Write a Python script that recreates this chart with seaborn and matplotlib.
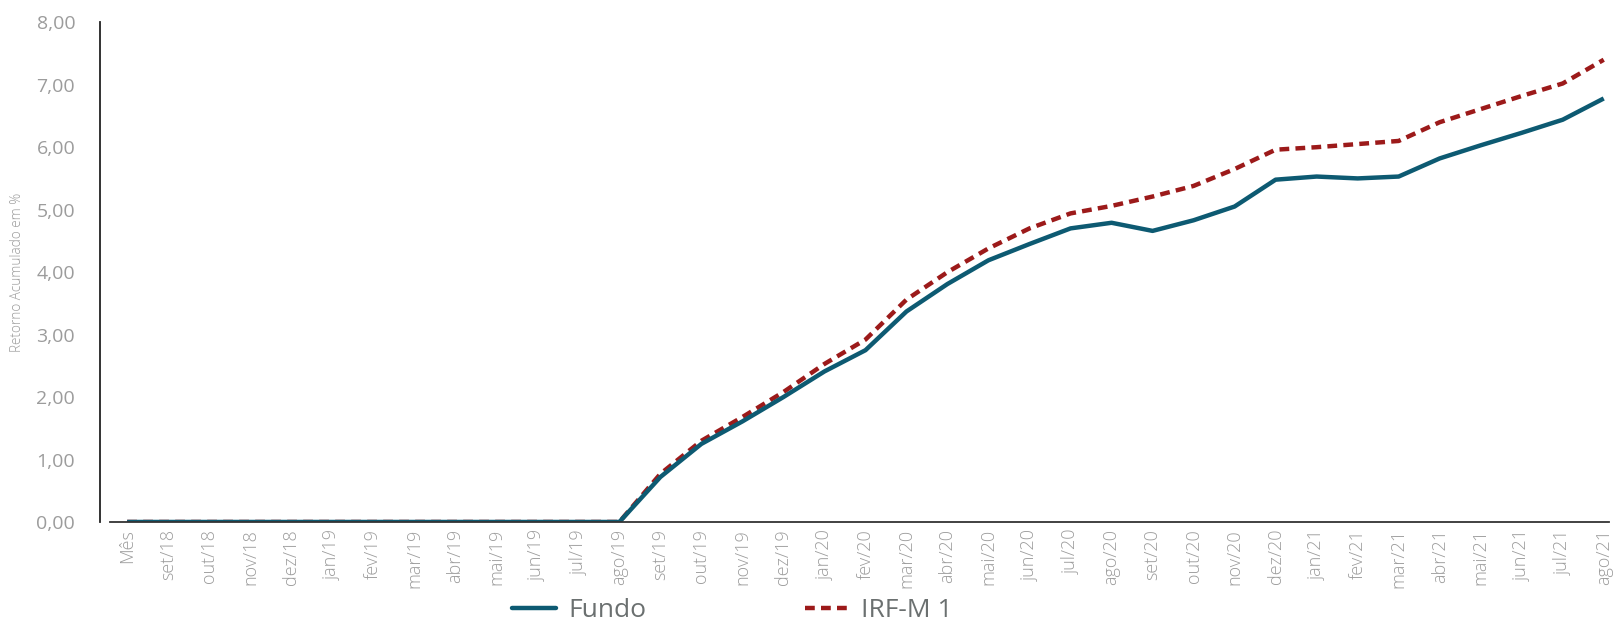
import numpy as np
import pandas as pd
import seaborn as sns
import matplotlib.pyplot as plt
from matplotlib.lines import Line2D
from matplotlib.ticker import FuncFormatter

meses = ["Mês", "set/18", "out/18", "nov/18", "dez/18", "jan/19", "fev/19", "mar/19",
         "abr/19", "mai/19", "jun/19", "jul/19", "ago/19", "set/19", "out/19", "nov/19",
         "dez/19", "jan/20", "fev/20", "mar/20", "abr/20", "mai/20", "jun/20", "jul/20",
         "ago/20", "set/20", "out/20", "nov/20", "dez/20", "jan/21", "fev/21", "mar/21",
         "abr/21", "mai/21", "jun/21", "jul/21", "ago/21"]

fundo = [0, 0, 0, 0, 0, 0, 0, 0, 0, 0, 0, 0, 0,
         0.72, 1.25, 1.61, 2.00, 2.41, 2.75, 3.37, 3.81, 4.19, 4.45, 4.70,
         4.79, 4.66, 4.83, 5.05, 5.48, 5.53, 5.50, 5.53, 5.82, 6.03, 6.23, 6.44, 6.78]

irfm1 = [0, 0, 0, 0, 0, 0, 0, 0, 0, 0, 0, 0, 0,
         0.77, 1.30, 1.68, 2.08, 2.53, 2.92, 3.56, 4.00, 4.38, 4.70, 4.94,
         5.06, 5.21, 5.38, 5.65, 5.96, 6.00, 6.05, 6.10, 6.40, 6.61, 6.82, 7.02, 7.40]

cor_fundo = "#0d5a72"
cor_irf = "#9c1a1a"
cinza = "#9c9c9c"
tracos = (0, (2.2, 1.4))

df = pd.DataFrame({"mes": meses, "Fundo": fundo, "IRF-M 1": irfm1})
df["pos"] = np.arange(len(meses))

sns.set_theme(style="white")
plt.rcParams["font.family"] = ["Open Sans", "DejaVu Sans"]

fig = plt.figure(figsize=(16.2, 6.27), dpi=100)
ax = fig.add_axes([0.068, 0.1675, 0.925, 0.797])

# IRF primeiro, Fundo por cima
sns.lineplot(data=df, x="pos", y="IRF-M 1", ax=ax, color=cor_irf, lw=3.2,
             linestyle=tracos, sort=False)
sns.lineplot(data=df, x="pos", y="Fundo", ax=ax, color=cor_fundo, lw=3.2,
             sort=False, solid_capstyle="butt")

ax.set_xlim(-0.415, 36.12)
ax.set_ylim(0, 8)
ax.set_xticks(df["pos"])
ax.set_xticklabels(meses, rotation=90, fontweight="light")
ax.set_yticks(np.arange(0, 9, 1))
ax.yaxis.set_major_formatter(FuncFormatter(lambda v, p: f"{v:.2f}".replace(".", ",")))
ax.set_xlabel("")
ax.set_ylabel("Retorno Acumulado em %", fontsize=9.8, color=cinza, labelpad=8,
              fontweight="light")

for s in ["top", "right"]:
    ax.spines[s].set_visible(False)
ax.spines["left"].set_position(("outward", 7.2))
ax.spines["left"].set_color("#222222")
ax.spines["bottom"].set_color("#333333")
ax.spines["left"].set_linewidth(1.3)
ax.spines["bottom"].set_linewidth(1.3)
ax.tick_params(axis="both", direction="in", length=6, width=1.2, color="#333333",
               labelcolor=cinza)
ax.tick_params(axis="y", pad=18, labelsize=14)
ax.tick_params(axis="x", pad=5, labelsize=13)

handles = [Line2D([], [], color=cor_fundo, lw=3.2),
           Line2D([], [], color=cor_irf, lw=3.2, linestyle=tracos)]
leg = fig.legend(handles, ["Fundo", "IRF-M 1"], loc="center", bbox_to_anchor=(0.452, 0.026),
                 ncol=2, frameon=False, fontsize=19, handlelength=1.7, handletextpad=0.45,
                 columnspacing=6.0, borderpad=0.1)
for t in leg.get_texts():
    t.set_color("#6b7070")

fig.savefig("out.png", dpi=100)
